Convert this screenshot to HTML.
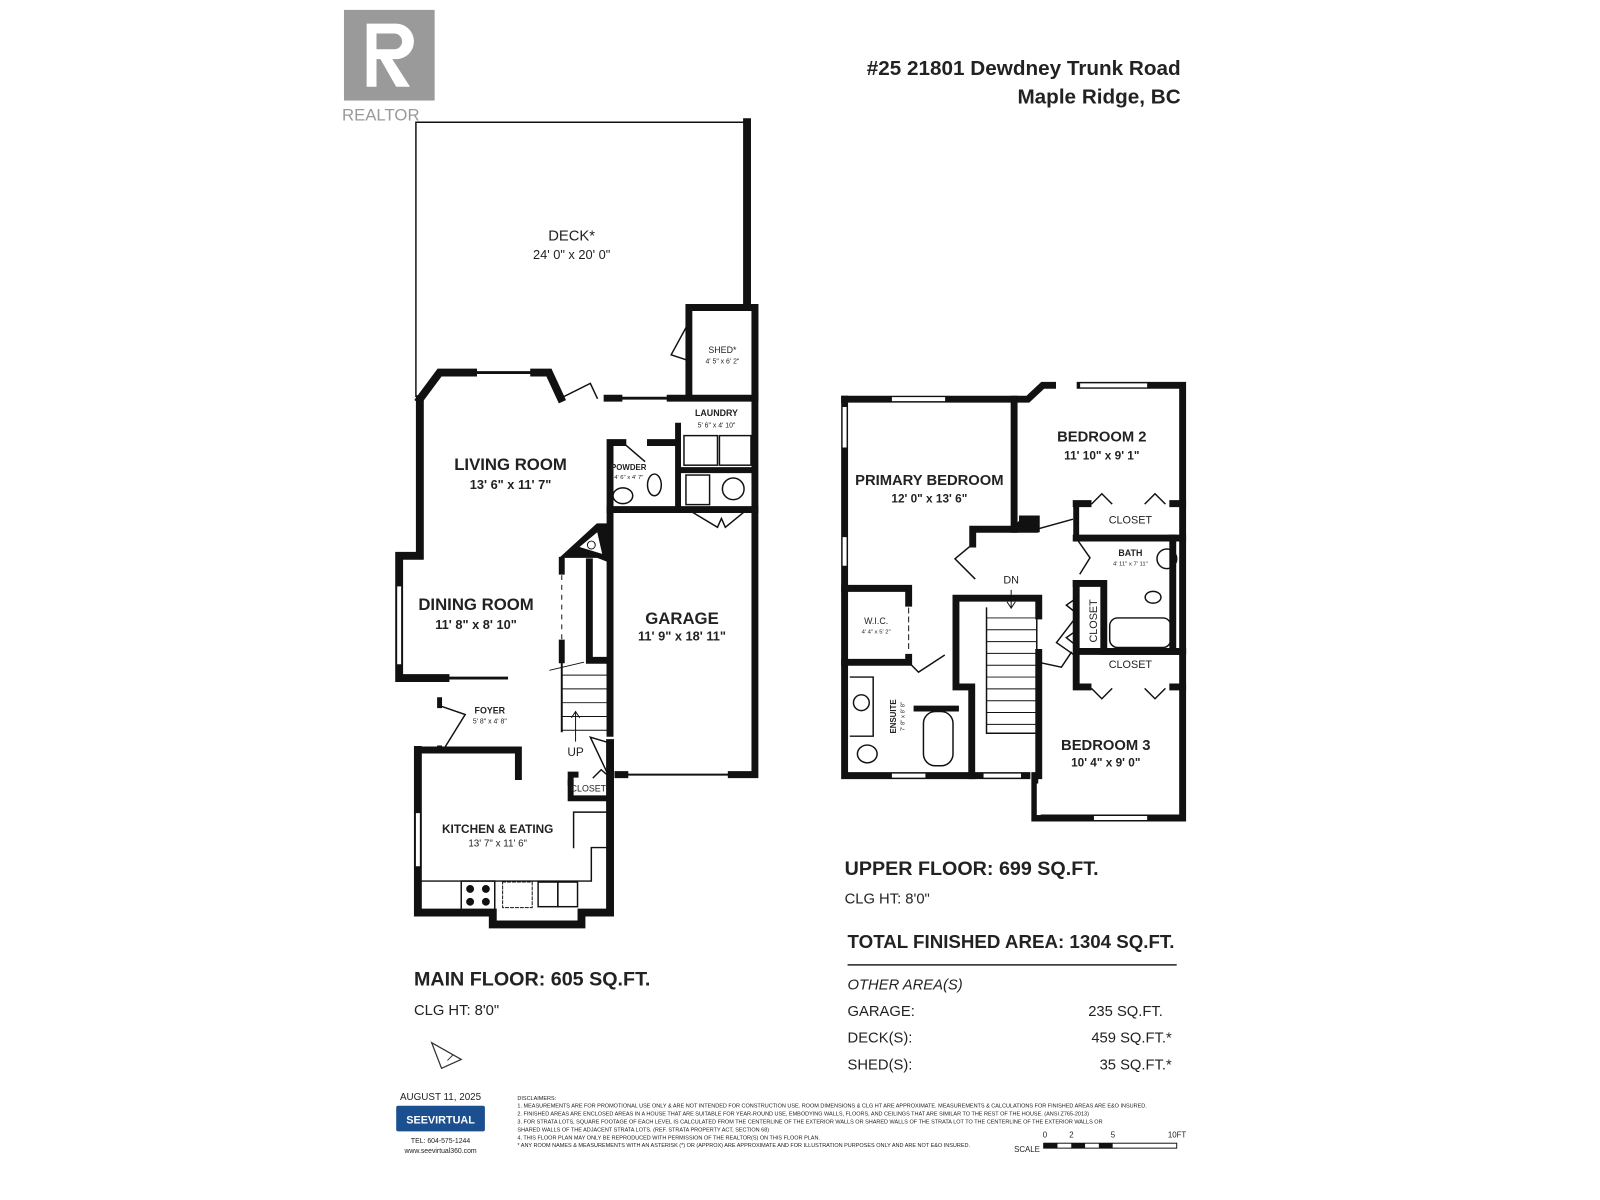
<!DOCTYPE html>
<html><head><meta charset="utf-8"><style>
body{margin:0;background:#fff}
svg{display:block}
text{font-family:"Liberation Sans",sans-serif;fill:#222}
.b{font-weight:bold}
</style></head><body>
<svg width="1600" height="1200" viewBox="0 0 1600 1200" xmlns="http://www.w3.org/2000/svg">
<g transform="translate(2,2) scale(0.9855)">
<!-- Realtor logo -->
<rect x="347" y="8" width="92" height="92" fill="#9a9a9a"/>
<path d="M370 22h30a18 18 0 0 1 0 36h-4l18 28h-14l-16-28h-4v28h-10z M380 32v16h18a8 8 0 0 0 0-16z" fill="#fff"/>
<text x="345" y="120" font-size="17" style="fill:#9a9a9a">REALTOR</text>
<!-- Address -->
<text x="1196" y="74" font-size="21" class="b" text-anchor="end">#25  21801 Dewdney Trunk Road</text>
<text x="1196" y="103" font-size="21" class="b" text-anchor="end">Maple Ridge, BC</text>

<g fill="none" stroke="#111" stroke-linecap="square">
<!-- deck -->
<path d="M420 400V122H756" stroke-width="1.5"/>
<path d="M756 122V308" stroke-width="8"/>
<!-- shed -->
<path d="M697 400V310H764V400" stroke-width="7"/>
<path d="M697 325L679 358L697 364" stroke-width="1.5"/>
<!-- main exterior -->
<path d="M424 403V562H403V686H450" stroke-width="8"/>
<path d="M403 595V670" stroke="#fff" stroke-width="4"/>
<path d="M450 686H512" stroke-width="3"/>
<path d="M424 403L444 376H478M540 376H555L567 402" stroke-width="8"/>
<path d="M478 376H540" stroke-width="3"/>
<path d="M567 402L597 387L604 402" stroke-width="1.5"/>
<path d="M614 402H626M678 402H764" stroke-width="7"/>
<path d="M626 402H678" stroke-width="3"/>
<path d="M764 310V784H740M632 784H625" stroke-width="7"/>
<path d="M632 784H740" stroke-width="2"/>
<!-- kitchen -->
<path d="M444 714V708M444 757V759" stroke-width="5"/>
<path d="M444 714L470 723L449 757" stroke-width="1.5"/>
<path d="M422 759H524V786" stroke-width="7"/>
<path d="M422 759V924H498V936H588V924H617V752" stroke-width="8"/>
<path d="M422 825V875" stroke="#fff" stroke-width="4"/>
<path d="M498 936H588" stroke-width="3"/>
<!-- closet -->
<path d="M577 792V808H617" stroke-width="6"/>
<path d="M577 792V784H582" stroke-width="6"/>
<path d="M600 787L608 779L616 786" stroke-width="1.5"/>
<!-- stairs -->
<path d="M568 566V578M568 650V668" stroke-width="6"/>
<path d="M568 582V646" stroke-width="1" stroke-dasharray="4 6"/>
<path d="M568 668V740" stroke-width="2"/>
<path d="M596 568V668H617V742" stroke-width="7"/>
<path d="M568 683H614M568 697H614M568 711H614M568 725H614M568 739H614" stroke-width="1"/>
<path d="M556 678L590 670" stroke-width="1"/>
<path d="M582 750V720M578 726L582 720L586 726" stroke-width="1"/>
<path d="M617 752L597 746L614 782" stroke-width="1.5"/>
<!-- closet corner -->
<path d="M568 563L604 530H617V568L604 563Z" fill="#111" stroke-width="2"/>
<path d="M586 553L604 538L609 560Z" fill="#fff" stroke="none"/>
<circle cx="598" cy="551" r="4" stroke-width="1"/>
<!-- powder / laundry -->
<path d="M617 740V447H630M658 447H682" stroke-width="7"/>
<path d="M617 515H764" stroke-width="7"/>
<path d="M686 475H764M686 430V515" stroke-width="6"/>
<path d="M630 447L652 466" stroke-width="1.5"/>
<rect x="692" y="440" width="34" height="30" stroke-width="1.5"/>
<rect x="728" y="440" width="32" height="30" stroke-width="1.5"/>
<rect x="694" y="480" width="24" height="30" stroke-width="1.5"/>
<circle cx="742" cy="494" r="11" stroke-width="1.5"/>
<ellipse cx="662" cy="490" rx="7" ry="11" stroke-width="1.5"/>
<ellipse cx="630" cy="501" rx="10" ry="8" stroke-width="1.5"/>
<path d="M696 515L726 533L730 524L734 533L756 515" stroke-width="1.5"/>
<!-- kitchen appliances -->
<rect x="466" y="892" width="34" height="29" stroke-width="1.5"/>
<circle cx="475" cy="900" r="3.5" fill="#111"/><circle cx="491" cy="900" r="3.5" fill="#111"/><circle cx="475" cy="913" r="3.5" fill="#111"/><circle cx="491" cy="913" r="3.5" fill="#111"/>
<rect x="508" y="893" width="30" height="26" stroke-width="1" stroke-dasharray="3 2"/>
<rect x="544" y="893" width="20" height="25" stroke-width="1.5"/>
<rect x="564" y="893" width="20" height="25" stroke-width="1.5"/>
<path d="M422 892H598V858M580 822H617M580 822V858M598 858H617" stroke-width="1.5"/>

<!-- UPPER FLOOR -->
<path d="M855 403V785H1040" stroke-width="7"/>
<path d="M855 413V450M855 545V570" stroke="#fff" stroke-width="4"/>
<path d="M855 403H1041L1056 389H1066M1094 389H1198V828H1048V785" stroke-width="7"/>
<path d="M905 403H955M1096 389H1160" stroke="#fff" stroke-width="4"/>
<path d="M1041 403L1056 389" stroke-width="3"/>
<path d="M1027 403V535" stroke-width="7"/>
<path d="M1022 535H1050V524H1035" stroke-width="6" fill="#111"/>
<path d="M985 550V535H1048" stroke-width="7"/>
<path d="M985 550L967 565L987 585" stroke-width="1.5"/>
<path d="M1050 535L1086 525" stroke-width="1.5"/>
<path d="M1090 512V540" stroke-width="6"/>
<path d="M1090 509H1102M1188 509H1198M1090 544H1198" stroke-width="7"/>
<path d="M1188 544V655" stroke-width="7"/>
<path d="M1090 544L1104 564L1094 580" stroke-width="1.5"/>
<path d="M1090 590H1118V659H1198" stroke-width="7"/>
<path d="M1090 590V659H1198" stroke-width="7"/>
<path d="M1090 664V695H1102M1188 695H1198" stroke-width="7"/>
<path d="M1090 624L1070 650L1090 664" stroke-width="1.5"/>
<path d="M1090 605L1080 612L1090 620M1090 638L1080 645L1090 653" stroke-width="1.5"/>
<path d="M1106 509L1116 499L1126 509M1160 509L1170 499L1180 509" stroke-width="1.5"/>
<path d="M1106 697L1116 707L1126 697M1160 697L1170 707L1180 697" stroke-width="1.5"/>
<rect x="1124" y="625" width="62" height="30" rx="8" stroke-width="1.5"/>
<ellipse cx="1168" cy="604" rx="8" ry="6" stroke-width="1.5"/>
<circle cx="1182" cy="565" r="10" stroke-width="1.5"/>
<!-- WIC / ensuite -->
<path d="M855 595H920V610M920 665V670H855" stroke-width="7"/>
<path d="M920 615V660" stroke-width="1" stroke-dasharray="5 4"/>
<path d="M920 670L930 680L956 663" stroke-width="1.5"/>
<path d="M968 695H984V785M968 695V605H1052V623" stroke-width="7"/>
<path d="M999 615V742M1050 615V742M999 742H1050" stroke-width="1.5"/>
<path d="M999 625H1050M999 637H1050M999 649H1050M999 661H1050M999 673H1050M999 685H1050M999 697H1050M999 709H1050M999 721H1050M999 733H1050" stroke-width="1"/>
<path d="M1024 597V615M1020 609L1024 615L1028 609" stroke-width="1"/>
<path d="M1052 660V785" stroke-width="7"/>
<path d="M1052 670L1075 675L1085 660" stroke-width="1.5"/>
<path d="M928 717H968" stroke-width="6"/>
<rect x="935" y="720" width="30" height="55" rx="12" stroke-width="1.5"/>
<path d="M861 685H884V745H861" stroke-width="1.5"/>
<circle cx="872" cy="711" r="8" stroke-width="1.5"/>
<ellipse cx="878" cy="763" rx="10" ry="9" stroke-width="1.5"/>
<path d="M905 785H935M998 785H1032" stroke="#fff" stroke-width="4"/>
<path d="M1052 795V823" stroke="#fff" stroke-width="4"/>
<path d="M1110 828H1160" stroke="#fff" stroke-width="4"/>
</g>

<!-- Labels main -->
<g text-anchor="middle">
<text x="578" y="242" font-size="15">DECK*</text>
<text x="578" y="261" font-size="13">24' 0" x 20' 0"</text>
<text x="731" y="356" font-size="9">SHED*</text>
<text x="731" y="367" font-size="7">4' 5" x 6' 2"</text>
<text x="725" y="420" font-size="9" class="b">LAUNDRY</text>
<text x="725" y="432" font-size="7">5' 6" x 4' 10"</text>
<text x="636" y="475" font-size="8" class="b">POWDER</text>
<text x="636" y="484" font-size="6">4' 6" x 4' 7"</text>
<text x="516" y="475" font-size="17" class="b">LIVING ROOM</text>
<text x="516" y="494" font-size="13" class="b">13' 6" x 11' 7"</text>
<text x="481" y="617" font-size="17" class="b">DINING ROOM</text>
<text x="481" y="636" font-size="13" class="b">11' 8" x 8' 10"</text>
<text x="690" y="631" font-size="17" class="b">GARAGE</text>
<text x="690" y="648" font-size="13" class="b">11' 9" x 18' 11"</text>
<text x="495" y="722" font-size="9" class="b">FOYER</text>
<text x="495" y="732" font-size="7">5' 8" x 4' 8"</text>
<text x="582" y="765" font-size="12">UP</text>
<text x="595" y="801" font-size="9">CLOSET</text>
<text x="503" y="843" font-size="12" class="b">KITCHEN &amp; EATING</text>
<text x="503" y="857" font-size="10">13' 7" x 11' 6"</text>
<!-- upper -->
<text x="941" y="490" font-size="15" class="b">PRIMARY BEDROOM</text>
<text x="941" y="508" font-size="12" class="b">12' 0" x 13' 6"</text>
<text x="1116" y="446" font-size="15" class="b">BEDROOM 2</text>
<text x="1116" y="464" font-size="12" class="b">11' 10" x 9' 1"</text>
<text x="1145" y="529" font-size="11">CLOSET</text>
<text x="1145" y="562" font-size="9" class="b">BATH</text>
<text x="1145" y="572" font-size="6">4' 11" x 7' 11"</text>
<text x="1024" y="590" font-size="11">DN</text>
<text x="887" y="631" font-size="9">W.I.C.</text>
<text x="887" y="641" font-size="6">4' 4" x 5' 2"</text>
<text x="1145" y="676" font-size="11">CLOSET</text>
<text x="1120" y="759" font-size="15" class="b">BEDROOM 3</text>
<text x="1120" y="776" font-size="12" class="b">10' 4" x 9' 0"</text>
<text transform="translate(1111,628) rotate(-90)" font-size="11">CLOSET</text>
<text transform="translate(907,725) rotate(-90)" font-size="8" class="b">ENSUITE</text>
<text transform="translate(916,725) rotate(-90)" font-size="6">7' 8" x 8' 8"</text>
</g>

<!-- summary -->
<text x="855" y="886" font-size="20" class="b">UPPER FLOOR: 699 SQ.FT.</text>
<text x="855" y="915" font-size="15">CLG HT: 8'0"</text>
<text x="858" y="960" font-size="19" class="b">TOTAL FINISHED AREA:  1304 SQ.FT.</text>
<line x1="858" y1="977" x2="1192" y2="977" stroke="#222" stroke-width="1.5"/>
<text x="858" y="1002" font-size="15" font-style="italic">OTHER AREA(S)</text>
<text x="858" y="1029" font-size="15">GARAGE:</text>
<text x="1178" y="1029" font-size="15" text-anchor="end">235 SQ.FT.</text>
<text x="858" y="1056" font-size="15">DECK(S):</text>
<text x="1187" y="1056" font-size="15" text-anchor="end">459 SQ.FT.*</text>
<text x="858" y="1083" font-size="15">SHED(S):</text>
<text x="1187" y="1083" font-size="15" text-anchor="end">35 SQ.FT.*</text>
<text x="418" y="998" font-size="20" class="b">MAIN FLOOR: 605 SQ.FT.</text>
<text x="418" y="1028" font-size="15">CLG HT: 8'0"</text>
<path d="M446 1082L466 1073L436 1056Z" fill="none" stroke="#333" stroke-width="1.3"/>
<path d="M452 1074L458 1068" stroke="#333" stroke-width="1"/>

<!-- footer -->
<text x="445" y="1114" font-size="10" text-anchor="middle">AUGUST 11, 2025</text>
<rect x="400" y="1120" width="90" height="26" fill="#1b4f8f" rx="2"/>
<text x="445" y="1138" font-size="11" class="b" text-anchor="middle" style="fill:#fff">SEEVIRTUAL</text>
<text x="445" y="1158" font-size="7" text-anchor="middle">TEL: 604-575-1244</text>
<text x="445" y="1168" font-size="7" text-anchor="middle">www.seevirtual360.com</text>
<g font-size="5.6">
<text x="523" y="1114">DISCLAIMERS:</text>
<text x="523" y="1122">1. MEASUREMENTS ARE FOR PROMOTIONAL USE ONLY &amp; ARE NOT INTENDED FOR CONSTRUCTION USE. ROOM DIMENSIONS &amp; CLG HT ARE APPROXIMATE. MEASUREMENTS &amp; CALCULATIONS FOR FINISHED AREAS ARE E&amp;O INSURED.</text>
<text x="523" y="1130">2. FINISHED AREAS ARE ENCLOSED AREAS IN A HOUSE THAT ARE SUITABLE FOR YEAR-ROUND USE, EMBODYING WALLS, FLOORS, AND CEILINGS THAT ARE SIMILAR TO THE REST OF THE HOUSE. (ANSI Z765-2013)</text>
<text x="523" y="1138">3. FOR STRATA LOTS, SQUARE FOOTAGE OF EACH LEVEL IS CALCULATED FROM THE CENTERLINE OF THE EXTERIOR WALLS OR SHARED WALLS OF THE STRATA LOT TO THE CENTERLINE OF THE EXTERIOR WALLS OR</text>
<text x="523" y="1146">SHARED WALLS OF THE ADJACENT STRATA LOTS. (REF. STRATA PROPERTY ACT, SECTION 68)</text>
<text x="523" y="1154">4. THIS FLOOR PLAN MAY ONLY BE REPRODUCED WITH PERMISSION OF THE REALTOR(S) ON THIS FLOOR PLAN.</text>
<text x="523" y="1162">* ANY ROOM NAMES &amp; MEASUREMENTS WITH AN ASTERISK (*) OR (APPROX) ARE APPROXIMATE AND FOR ILLUSTRATION PURPOSES ONLY AND ARE NOT E&amp;O INSURED.</text>
</g>
<g font-size="8">
<text x="1027" y="1167">SCALE</text>
<text x="1056" y="1152">0</text><text x="1083" y="1152">2</text><text x="1125" y="1152">5</text><text x="1183" y="1152">10FT</text>
</g>
<rect x="1057" y="1158" width="135" height="5" fill="none" stroke="#111"/>
<rect x="1057" y="1158" width="14" height="5" fill="#111"/><rect x="1085" y="1158" width="14" height="5" fill="#111"/><rect x="1113" y="1158" width="14" height="5" fill="#111"/>
</g>
</svg>
</body></html>
